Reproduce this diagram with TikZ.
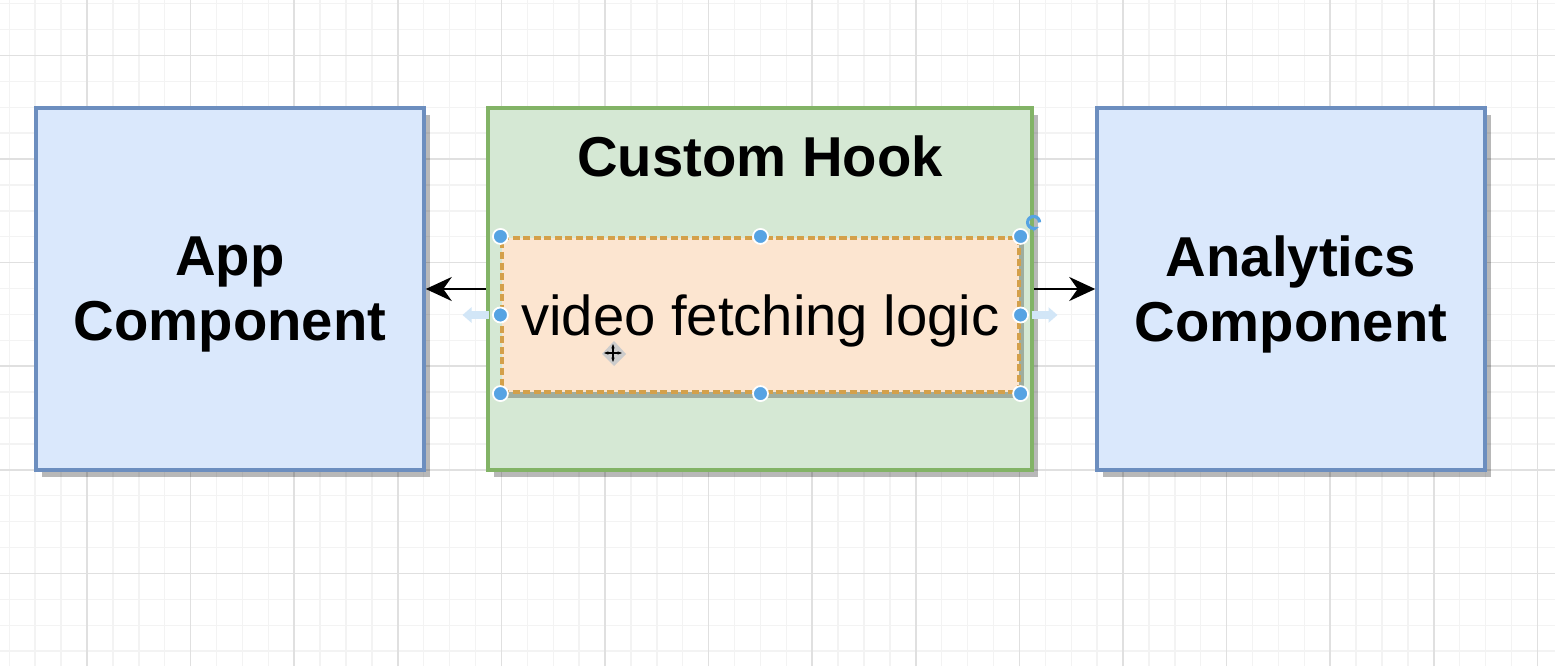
\documentclass[tikz,border=0pt]{standalone}
\usepackage{fontspec}
\setmainfont{Liberation Sans}
\usepackage{tikz}
\usetikzlibrary{positioning,calc}
\usetikzlibrary{arrows.meta,shadows}
\definecolor{AppBlue}{HTML}{DAE8FC}
\definecolor{AppLine}{HTML}{6C8EBF}
\definecolor{HookGreen}{HTML}{D5E8D4}
\definecolor{HookLine}{HTML}{82B366}
\definecolor{LogicOrange}{HTML}{FCE5D0}
\definecolor{LogicLine}{HTML}{D4A04A}
\definecolor{PickBlue}{HTML}{56A3E3}
\definecolor{HoverBlue}{HTML}{D2E6F7}
\definecolor{GridMinor}{HTML}{F3F3F3}
\definecolor{GridMajor}{HTML}{E0E0E0}
\tikzset{
  box/.style={draw=AppLine,fill=AppBlue,line width=1pt,minimum width=3.88cm,
    minimum height=3.62cm,align=center,text depth=0pt,
    font=\fontsize{16}{18.5}\selectfont\bfseries,
    drop shadow={shadow xshift=0.06cm,shadow yshift=-0.07cm,fill=black,opacity=0.28}},
  hookbox/.style={box,draw=HookLine,fill=HookGreen,minimum width=5.44cm},
  logic/.style={draw=LogicLine,fill=LogicOrange,dash pattern=on 2pt off 1pt,line width=0.9pt,
    minimum width=5.17cm,minimum height=1.54cm,text depth=0pt,
    font=\fontsize{16}{18.5}\selectfont,
    drop shadow={shadow xshift=0.05cm,shadow yshift=-0.06cm,fill=black,opacity=0.25}},
  flow/.style={draw=black,line width=0.8pt,-{Stealth[length=0.26cm,width=0.24cm]}},
  hover/.style={draw=HoverBlue,line width=2.2pt,-{Triangle[length=0.09cm,width=0.15cm]}},
  handle/.style={circle,draw=white,fill=PickBlue,line width=0.5pt,inner sep=0pt,minimum size=0.15cm},
  gridminor/.style={draw=GridMinor,line width=0.4pt},
  gridmajor/.style={draw=GridMajor,line width=0.45pt},
}
\begin{document}
\begin{tikzpicture}
\useasboundingbox (0,0) rectangle (15.55,6.66);
\fill[white] (0,0) rectangle (15.55,6.66);
\foreach \i in {0,...,59} \draw[gridminor] ({0.093+0.259*\i},0) -- ++(0,6.66);
\foreach \i in {0,...,25} \draw[gridminor] (0,{6.624-0.259*\i}) -- ++(15.55,0);
\foreach \i in {0,...,14} \draw[gridmajor] ({0.87+1.036*\i},0) -- ++(0,6.66);
\foreach \i in {0,...,5} \draw[gridmajor] (0,{6.106-1.036*\i}) -- ++(15.55,0);

\coordinate (c1) at (2.30,3.77);
\coordinate (c2) at (7.60,3.77);
\coordinate (c3) at (12.91,3.77);
\coordinate (c4) at (7.605,3.51);

\node[box] (app) at (c1) {App\\Component};
\node[hookbox] (hook) at (c2) {};
\node[box] (analytics) at (c3) {Analytics\\Component};
\node[anchor=base,font=\fontsize{16}{18.5}\selectfont\bfseries] (title) at (7.60,4.90) {Custom Hook};

\draw[flow] (hook.west) -- (app.east);
\draw[flow] (hook.east) -- (analytics.west);

\draw[hover] ($(c4)+(-2.72,0)$) -- ($(c4)+(-2.98,0)$);
\draw[hover] ($(c4)+(2.71,0)$) -- ($(c4)+(2.97,0)$);

\node[logic] (logic) at (c4) {video fetching logic};

\foreach \a [count=\k] in {north west,north,north east,west,east,south west,south,south east}
  \node[handle] (h\k) at (logic.\a) {};
\coordinate (rot) at ($(logic.north east)+(0.13,0.14)$);
\draw[PickBlue,line width=0.9pt,-{Stealth[length=0.05cm]}] ($(rot)+(0.06,0)$) arc (0:300:0.06);

\coordinate (cur) at (6.13,3.13);
\fill[black!20] ($(cur)+(0.01,0.12)$) -- ($(cur)+(0.13,-0.01)$) -- ($(cur)+(0.01,-0.13)$) -- ($(cur)+(-0.11,-0.01)$) -- cycle;
\draw[black,line width=0.8pt,{Stealth[length=0.045cm]}-{Stealth[length=0.045cm]}] ($(cur)+(-0.09,0)$) -- ($(cur)+(0.09,0)$);
\draw[black,line width=0.8pt,{Stealth[length=0.045cm]}-{Stealth[length=0.045cm]}] ($(cur)+(0,-0.09)$) -- ($(cur)+(0,0.09)$);
\end{tikzpicture}
\end{document}
